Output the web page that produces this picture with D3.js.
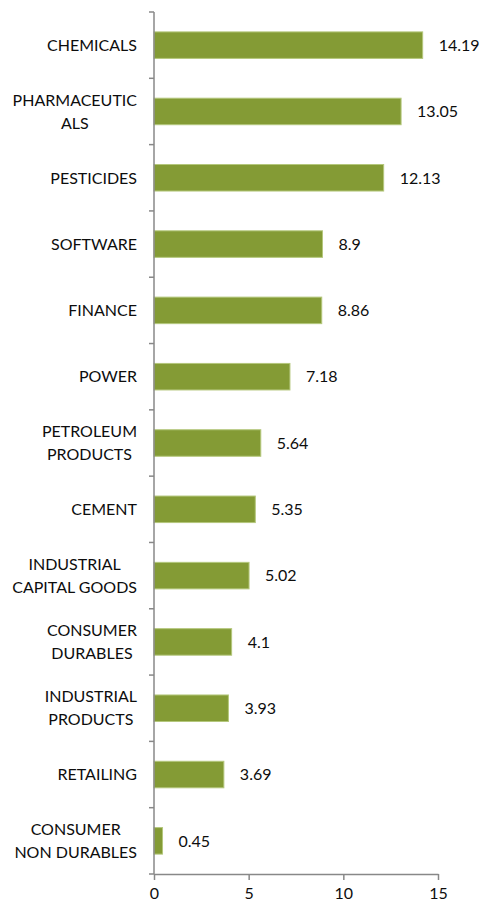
<!DOCTYPE html>
<html><head><meta charset="utf-8">
<script src="https://cdn.jsdelivr.net/npm/d3@7"></script>
<style>body{margin:0;background:#fff;}svg{display:block;font-family:Lato,sans-serif;}</style>
</head><body>
<svg id="c" width="483" height="904"></svg>
<script>
const categories = [
  ["CHEMICALS"],
  ["PHARMACEUTIC","ALS"],
  ["PESTICIDES"],
  ["SOFTWARE"],
  ["FINANCE"],
  ["POWER"],
  ["PETROLEUM","PRODUCTS"],
  ["CEMENT"],
  ["INDUSTRIAL","CAPITAL GOODS"],
  ["CONSUMER","DURABLES"],
  ["INDUSTRIAL","PRODUCTS"],
  ["RETAILING"],
  ["CONSUMER","NON DURABLES"]
];
const values = [14.19, 13.05, 12.13, 8.9, 8.86, 7.18, 5.64, 5.35, 5.02, 4.1, 3.93, 3.69, 0.45];
const xTicks = [0, 5, 10, 15];

(function(){
const svg = d3.select("#c");
const mLeft = 154, mRight = 438, mTop = 12, mBottom = 874;
const keys = categories.map((c, i) => i);
const x = d3.scaleLinear().domain([0, 15]).range([mLeft, mRight]);
const y = d3.scaleBand().domain(keys).range([mTop, mBottom]).paddingInner(0.6).paddingOuter(0.3);
const yb = d3.scaleBand().domain(keys).range([mTop, mBottom]);
const txt = "#0d0d0d";

// bars
svg.selectAll("rect.bar").data(values).enter().append("rect")
  .attr("x", x(0)).attr("y", (d, i) => y(i))
  .attr("width", d => x(d) - x(0)).attr("height", y.bandwidth())
  .attr("fill", "#849b35").attr("stroke", "#b4c77c").attr("stroke-width", 1);

// value labels
svg.selectAll("text.val").data(values).enter().append("text")
  .attr("x", d => x(d) + 16).attr("y", (d, i) => y(i) + y.bandwidth() / 2)
  .attr("dy", "0.36em").attr("font-size", 16).attr("fill", txt)
  .text(d => d);

// y axis line and ticks
const axisColor = "#888";
svg.append("line").attr("x1", mLeft).attr("x2", mLeft).attr("y1", mTop).attr("y2", mBottom)
  .attr("stroke", axisColor).attr("stroke-width", 1.5);
const yEdges = keys.map(k => yb(k)).concat([mBottom]);
svg.selectAll("line.yt").data(yEdges).enter().append("line")
  .attr("x1", mLeft - 5).attr("x2", mLeft).attr("y1", d => d).attr("y2", d => d)
  .attr("stroke", axisColor).attr("stroke-width", 1.5);

// category labels (multi-line centered, block right-aligned)
categories.forEach((lines, i) => {
  const cy = yb(i) + yb.bandwidth() / 2;
  const lh = 23;
  const t = svg.append("text").attr("text-anchor", "middle").attr("font-size", 16).attr("fill", txt);
  const spans = lines.map((ln, j) => t.append("tspan")
      .attr("y", cy + (j - (lines.length - 1) / 2) * lh).attr("dy", "0.36em").text(ln));
  const maxW = d3.max(spans, s => s.node().getComputedTextLength());
  spans.forEach(s => s.attr("x", 137 - maxW / 2));
});

// x axis
const xAxis = d3.axisBottom(x).tickValues(xTicks).tickSize(6).tickSizeOuter(0);
const gx = svg.append("g").attr("transform", `translate(0,${mBottom})`).call(xAxis);
gx.select(".domain").attr("stroke", axisColor).attr("stroke-width", 1.5);
gx.selectAll(".tick line").attr("stroke", axisColor).attr("stroke-width", 1.5);
gx.selectAll(".tick text").attr("font-size", 16).attr("fill", txt).attr("y", 14)
  .attr("font-family", "Lato,sans-serif");
})();
</script>
</body></html>
